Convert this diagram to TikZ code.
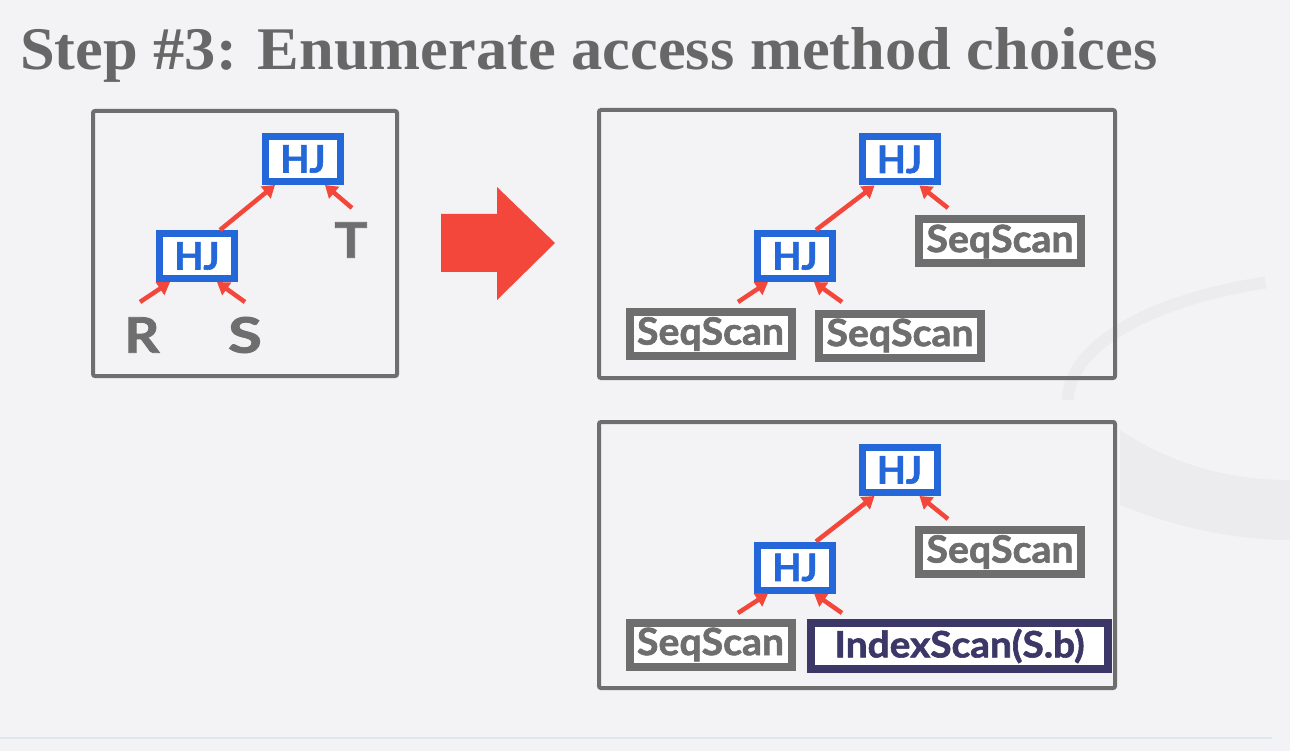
\documentclass[tikz,border=0pt]{standalone}
\usepackage{graphicx}
\usepackage{fontspec}
\setmainfont{Liberation Serif}
\newfontfamily\lab{Lato}[BoldFeatures={FakeBold=1.6}]
\usetikzlibrary{arrows.meta,calc}
\definecolor{bg}{HTML}{F3F3F5}
\definecolor{wm}{HTML}{ECECEE}
\definecolor{titlegray}{HTML}{676767}
\definecolor{boxgray}{HTML}{6E6E6E}
\definecolor{hjblue}{HTML}{2467D8}
\definecolor{navy}{HTML}{3B3867}
\definecolor{arrred}{HTML}{F2473A}
\definecolor{rule}{HTML}{DCE7EE}
\newcommand{\fitw}[2]{\resizebox{#1}{\height}{#2}}
\tikzset{
  panel/.style={draw=boxgray, line width=4pt, rounded corners=2pt, fill=none, inner sep=0pt},
  hj/.style={draw=hjblue, line width=7pt, fill=white, minimum width=75pt, minimum height=45pt,
    inner sep=0pt, text=hjblue, font=\lab\bfseries\fontsize{37.7}{40}\selectfont},
  scanbox/.style={draw=boxgray, line width=8pt, fill=white, minimum width=162pt, minimum height=44pt,
    inner sep=0pt, text=boxgray, font=\lab\bfseries\fontsize{37.7}{40}\selectfont},
  idxbox/.style={draw=navy, line width=8pt, fill=white, minimum width=297pt, minimum height=46pt,
    inner sep=0pt, text=navy, font=\lab\bfseries\fontsize{36.5}{40}\selectfont},
  rel/.style={inner sep=0pt, text=boxgray, font=\lab\bfseries\fontsize{49}{50}\selectfont},
  arr/.style={draw=arrred, line width=4.5pt, -{Triangle[length=12pt,width=15pt]}},
}
\begin{document}
\begin{tikzpicture}[x=1pt,y=-1pt]
\fill[bg] (0,0) rectangle (1290,751);
\useasboundingbox (0,0) rectangle (1290,751);
% faint watermark
\draw[wm, line width=12pt] (1068,400) arc[start angle=180, end angle=250, x radius=300, y radius=125];
\fill[wm] (1120,430) .. controls (1180,470) and (1240,480) .. (1290,480) -- (1290,540) .. controls (1230,540) and (1170,525) .. (1120,505) -- cycle;
\draw[rule, line width=1.5pt] (0,738) -- (1272,738);

% title
\node[anchor=base west, inner sep=0pt, text=titlegray] (title) at (20,70)
  {\resizebox{1137pt}{42pt}{\bfseries Step \#3: Enumerate access method choices}};

% left panel
\node[panel, minimum width=304pt, minimum height=265pt] (p1) at (245,243.5) {};
\node[hj] (a1) at (303,159) {\fitw{45pt}{HJ}};
\node[hj] (a2) at (197,256) {\fitw{45pt}{HJ}};
\node[rel] (R) at (142,335) {\fitw{35pt}{R}};
\node[rel] (S) at (245,335) {\fitw{34pt}{S}};
\node[rel] (T) at (351,240) {\fitw{33pt}{T}};
\coordinate (r0) at (140,302);
\coordinate (s0) at (245,302);
\coordinate (t0) at (352,208);
\draw[arr] (r0) -- ([xshift=14pt]a2.south west);
\draw[arr] (s0) -- ([xshift=-21pt]a2.south east);
\draw[arr] ([xshift=23pt]a2.north) -- ([xshift=13pt]a1.south west);
\draw[arr] (t0) -- ([xshift=-19pt]a1.south east);

% big arrow
\fill[arrred] (441,214) -- (497,214) -- (497,187) -- (555,243) -- (497,300) -- (497,272) -- (441,272) -- cycle;

% top right panel
\node[panel, minimum width=516pt, minimum height=268pt] (p2) at (857,244) {};
\node[hj] (b1) at (899.5,159.5) {\fitw{45pt}{HJ}};
\node[hj] (b2) at (795,256) {\fitw{45pt}{HJ}};
\node[scanbox] (b3) at (1000,241.5) {\fitw{147pt}{SeqScan}};
\node[scanbox] (b4) at (710.5,334) {\fitw{147pt}{SeqScan}};
\node[scanbox] (b5) at (900,335.5) {\fitw{147pt}{SeqScan}};
\coordinate (b4t) at (738,302);
\coordinate (b5t) at (842,302);
\coordinate (b3t) at (948,208);
\draw[arr] (b4t) -- ([xshift=14pt]b2.south west);
\draw[arr] (b5t) -- ([xshift=-22pt]b2.south east);
\draw[arr] ([xshift=21pt]b2.north) -- ([xshift=16pt]b1.south west);
\draw[arr] (b3t) -- ([xshift=-21pt]b1.south east);

% bottom right panel
\node[panel, minimum width=516pt, minimum height=266pt] (p3) at (857,555) {};
\node[hj] (c1) at (899.5,470) {\fitw{45pt}{HJ}};
\node[hj] (c2) at (795,567.5) {\fitw{45pt}{HJ}};
\node[scanbox] (c3) at (1000,552) {\fitw{147pt}{SeqScan}};
\node[scanbox] (c4) at (710.5,644.5) {\fitw{147pt}{SeqScan}};
\node[idxbox] (c5) at (959.5,646) {\fitw{250pt}{IndexScan(S.b)}};
\coordinate (c4t) at (738,613);
\coordinate (c5t) at (842,613);
\coordinate (c3t) at (948,519);
\draw[arr] (c4t) -- ([xshift=14pt]c2.south west);
\draw[arr] (c5t) -- ([xshift=-22pt]c2.south east);
\draw[arr] ([xshift=21pt]c2.north) -- ([xshift=16pt]c1.south west);
\draw[arr] (c3t) -- ([xshift=-21pt]c1.south east);
\end{tikzpicture}
\end{document}
